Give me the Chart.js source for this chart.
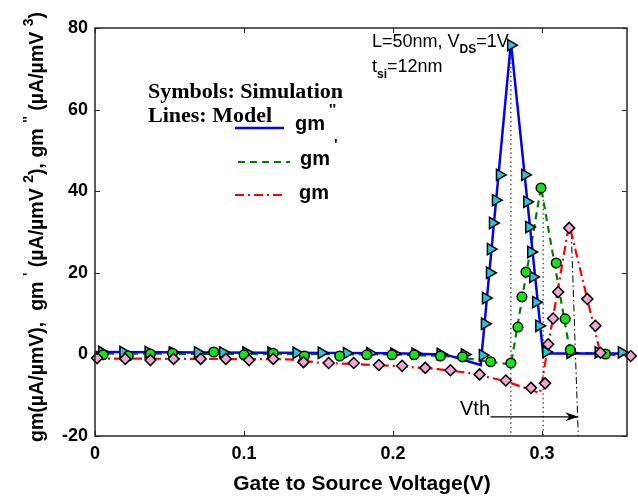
<!DOCTYPE html>
<html>
<head>
<meta charset="utf-8">
<script src="https://cdn.jsdelivr.net/npm/chart.js@4.4.1/dist/chart.umd.min.js"></script>
<style>
  html, body { margin: 0; background: #fff; }
  #wrap { width: 638px; height: 501px; }
</style>
</head>
<body>
<div id="wrap"><canvas id="c"></canvas></div>
<script>
// axis ticks
const xTicks = [0, 0.1, 0.2, 0.3];
const yTicks = [-20, 0, 20, 40, 60, 80];

// model curves (lines)
const gm2LineV = [0, 0.2, 0.235, 0.2588, 0.2791, 0.3007, 0.36];
const gm2LineY = [0.6, 0.3, 0, -2.6, 76.5, 0.2, 0.2];
const gm1LineV = [0, 0.2, 0.24, 0.265, 0.2791, 0.2993, 0.3189, 0.36];
const gm1LineY = [0.2, 0, -0.5, -1.8, -2.5, 41, 0.4, 0];
const gmLineV = [0, 0.13, 0.15, 0.2, 0.23, 0.25, 0.275, 0.2986, 0.3182, 0.3392, 0.36];
const gmLineY = [-1.0, -1.2, -2.0, -2.8, -3.6, -4.5, -6.5, -9.5, 32, 0.2, -0.6];

// simulation symbols
const gm2SimV = [0.0047, 0.0189, 0.0358, 0.052, 0.0689, 0.0858, 0.1014, 0.1182, 0.1351, 0.152,
  0.1689, 0.1845, 0.2007, 0.2149, 0.2318, 0.248, 0.2601, 0.2615, 0.2622, 0.2649, 0.2655, 0.2669,
  0.2689, 0.2716, 0.2791, 0.2885, 0.2899, 0.2912, 0.2926, 0.2939, 0.2959, 0.298, 0.3027, 0.3189,
  0.3378, 0.3534];
const gm2SimY = [0.6, 0.6, 0.6, 0.5, 0.5, 0.5, 0.5, 0.4, 0.4, 0.4, 0.3, 0.3, 0.2, 0.2, 0.1, 0.0,
  -0.2, 7.5, 13.8, 20.0, 25.8, 32.2, 37.8, 44.0, 75.8, 44.0, 37.4, 31.2, 25.1, 19.0, 12.8, 7.0,
  0.6, 0.4, 0.5, 0.5];

const gm1SimV = [0.0054, 0.0223, 0.0372, 0.052, 0.0797, 0.1, 0.1196, 0.1405, 0.1642, 0.1824,
  0.1993, 0.2142, 0.2318, 0.2466, 0.2655, 0.2791, 0.2838, 0.2865, 0.2892, 0.2993, 0.3095, 0.3155,
  0.3189, 0.3426];
const gm1SimY = [-0.1, -0.4, 0.1, 0.3, 0.6, -0.1, 0.3, -0.4, -0.4, -0.1, -0.1, -0.1, -0.4, -0.6,
  -1.8, -2.1, 6.7, 14.1, 20.2, 40.8, 22.4, 8.7, 1.1, 0.1];

const gmSimV = [0.0014, 0.0203, 0.0372, 0.0527, 0.0709, 0.0878, 0.1034, 0.1196, 0.1399, 0.1568,
  0.1736, 0.1905, 0.2061, 0.2216, 0.2385, 0.2581, 0.2757, 0.2926, 0.302, 0.3041, 0.3074, 0.3108,
  0.3182, 0.3304, 0.3358, 0.3392, 0.3595];
const gmSimY = [-0.9, -1.1, -1.4, -1.1, -1.1, -1.1, -1.4, -1.1, -1.9, -2.1, -2.1, -2.6, -2.8, -3.3,
  -3.9, -4.9, -6.4, -8.2, -7.1, 2.5, 8.8, 15.3, 31.0, 13.6, 7.0, 0.4, -0.4];

// threshold guide lines
const vthGm2 = [[0.2791, 76], [0.2791, -20]];
const vthGm1 = [[0.3007, 39], [0.3007, -20]];
const vthGm = [[0.3196, 30], [0.3243, -20]];
const vthArrow = [[0.2655, -15.3], [0.3243, -15.3]];

const pts = (xs, ys) => xs.map((x, i) => ({ x: x, y: ys[i] }));
const seg = (arr) => arr.map(p => ({ x: p[0], y: p[1] }));

const FONT = "'Liberation Sans', Arial, sans-serif";
const SERIF = "'Liberation Serif', 'Times New Roman', serif";

function drawSupText(ctx, parts, size) {
  // parts: [text, isSup]; draws from current origin along +x
  let x = 0;
  parts.forEach(p => {
    if (p[1]) {
      ctx.font = "bold " + Math.round(size * 0.72) + "px " + FONT;
      ctx.fillText(p[0], x, -size * 0.5);
    } else {
      ctx.font = "bold " + size + "px " + FONT;
      ctx.fillText(p[0], x, 0);
    }
    x += ctx.measureText(p[0]).width;
  });
  return x;
}
function measureSup(ctx, parts, size) {
  let w = 0;
  parts.forEach(p => {
    ctx.font = "bold " + (p[1] ? Math.round(size * 0.72) : size) + "px " + FONT;
    w += ctx.measureText(p[0]).width;
  });
  return w;
}

const decor = {
  id: 'decor',
  afterDatasetsDraw(chart) {
    const ctx = chart.ctx;
    const a = chart.chartArea;
    const xs = chart.scales.x, ys = chart.scales.y;
    ctx.save();

    // frame and inward ticks
    ctx.strokeStyle = '#262626';
    ctx.lineWidth = 1.5;
    ctx.strokeRect(a.left, a.top, a.right - a.left, a.bottom - a.top);
    ctx.lineWidth = 1;
    ctx.beginPath();
    xTicks.forEach(v => {
      const px = Math.round(xs.getPixelForValue(v)) + 0.5;
      ctx.moveTo(px, a.bottom); ctx.lineTo(px, a.bottom - 5);
      ctx.moveTo(px, a.top); ctx.lineTo(px, a.top + 5);
    });
    yTicks.forEach(v => {
      const py = Math.round(ys.getPixelForValue(v)) + 0.5;
      ctx.moveTo(a.left, py); ctx.lineTo(a.left + 5, py);
      ctx.moveTo(a.right, py); ctx.lineTo(a.right - 5, py);
    });
    ctx.stroke();

    // arrow head
    const ax = xs.getPixelForValue(vthArrow[1][0]);
    const ay = ys.getPixelForValue(vthArrow[1][1]);
    ctx.fillStyle = '#000';
    ctx.beginPath();
    ctx.moveTo(ax, ay);
    ctx.lineTo(ax - 13, ay - 4.5);
    ctx.lineTo(ax - 9, ay);
    ctx.lineTo(ax - 13, ay + 4.5);
    ctx.closePath();
    ctx.fill();

    // Vth label
    ctx.fillStyle = '#000';
    ctx.textBaseline = 'alphabetic';
    ctx.textAlign = 'left';
    ctx.font = "20px " + FONT;
    ctx.fillText('Vth', 460, 415);

    // device parameters
    ctx.font = "18px " + FONT;
    let tx = 372;
    ctx.fillText('L=50nm, V', tx, 47);
    tx += ctx.measureText('L=50nm, V').width;
    ctx.font = "bold 12px " + FONT;
    ctx.fillText('DS', tx, 53);
    tx += ctx.measureText('DS').width;
    ctx.font = "18px " + FONT;
    ctx.fillText('=1V', tx, 47);
    ctx.fillText('t', 372, 72);
    let tw = ctx.measureText('t').width;
    ctx.font = "bold 12px " + FONT;
    ctx.fillText('si', 372 + tw, 78);
    tw += ctx.measureText('si').width;
    ctx.font = "18px " + FONT;
    ctx.fillText('=12nm', 372 + tw, 72);

    // legend block
    ctx.font = "bold 20px " + SERIF;
    const w1 = ctx.measureText('Symbols: Simulation').width;
    ctx.save();
    ctx.translate(148, 98);
    ctx.scale(195 / w1, 1);
    ctx.fillText('Symbols: Simulation', 0, 0);
    ctx.restore();
    ctx.save();
    ctx.translate(148, 122);
    ctx.scale(195 / w1, 1);
    ctx.fillText('Lines: Model', 0, 0);
    ctx.restore();

    const legend = [
      { ds: 3, x0: 235, x1: 284, y: 128, tx: 295, ty: 130, sup: "''" },
      { ds: 4, x0: 238, x1: 290, y: 162, tx: 300, ty: 165, sup: "'" },
      { ds: 5, x0: 235, x1: 286, y: 195, tx: 299, ty: 199, sup: "" }
    ];
    legend.forEach(l => {
      const d = chart.data.datasets[l.ds];
      ctx.strokeStyle = d.borderColor;
      ctx.lineWidth = d.borderWidth;
      ctx.setLineDash(d.borderDash || []);
      ctx.beginPath();
      ctx.moveTo(l.x0, l.y); ctx.lineTo(l.x1, l.y);
      ctx.stroke();
      ctx.setLineDash([]);
      ctx.fillStyle = '#000';
      ctx.font = "bold 20px " + FONT;
      ctx.fillText('gm', l.tx, l.ty);
      const gw = ctx.measureText('gm').width;
      if (l.sup) {
        ctx.font = "bold 15px " + FONT;
        ctx.fillText(l.sup, l.tx + gw + 4, l.ty - 16);
      }
    });

    // axis titles
    ctx.fillStyle = '#000';
    ctx.font = "bold 21px " + FONT;
    ctx.textAlign = 'center';
    ctx.fillText('Gate to Source Voltage(V)', 362, 490);

    const yParts = [
      ['gm(\u00b5A/\u00b5mV),  gm ', false], ["'", true], [' (\u00b5A/\u00b5mV ', false], ['2', true],
      ['), gm ', false], ["''", true], [' (\u00b5A/\u00b5mV ', false], ['3', true], [')', false]
    ];
    ctx.textAlign = 'left';
    let sz = 17;
    const tot = measureSup(ctx, yParts, sz);
    sz = sz * 430 / tot;
    const totW = measureSup(ctx, yParts, sz);
    ctx.save();
    ctx.translate(43, 227 + totW / 2);
    ctx.rotate(-Math.PI / 2);
    drawSupText(ctx, yParts, sz);
    ctx.restore();

    ctx.restore();
  }
};

const tickFont = { family: FONT, size: 18, weight: 'bold' };

new Chart(document.getElementById('c'), {
  type: 'scatter',
  data: {
    datasets: [
      { label: 'gm sim', data: pts(gmSimV, gmSimY), pointStyle: 'rectRot', pointRadius: 5.5,
        backgroundColor: '#f2a6d2', borderColor: '#000', pointBorderWidth: 1.5, clip: false },
      { label: "gm' sim", data: pts(gm1SimV, gm1SimY), pointStyle: 'circle', pointRadius: 4.8,
        backgroundColor: '#12e612', borderColor: '#000', pointBorderWidth: 1.5, clip: false },
      { label: "gm'' sim", data: pts(gm2SimV, gm2SimY), pointStyle: 'triangle', rotation: 90,
        pointRadius: 6.5, backgroundColor: '#22c8dc', borderColor: '#000', pointBorderWidth: 1.5, clip: false },
      { label: "gm''", data: pts(gm2LineV, gm2LineY), showLine: true, pointRadius: 0,
        borderColor: '#0000ff', borderWidth: 2.5 },
      { label: "gm'", data: pts(gm1LineV, gm1LineY), showLine: true, pointRadius: 0,
        borderColor: '#008000', borderWidth: 2.2, borderDash: [7, 5] },
      { label: 'gm', data: pts(gmLineV, gmLineY), showLine: true, pointRadius: 0,
        borderColor: '#ff0000', borderWidth: 2.2, borderDash: [9, 4, 2, 4] },
      { label: 'vth1', data: seg(vthGm2), showLine: true, pointRadius: 0,
        borderColor: '#000', borderWidth: 1, borderDash: [1.5, 3] },
      { label: 'vth2', data: seg(vthGm1), showLine: true, pointRadius: 0,
        borderColor: '#000', borderWidth: 1, borderDash: [1.5, 3] },
      { label: 'vth3', data: seg(vthGm), showLine: true, pointRadius: 0,
        borderColor: '#000', borderWidth: 1, borderDash: [7, 3, 1.5, 3] },
      { label: 'arrow', data: seg(vthArrow), showLine: true, pointRadius: 0,
        borderColor: '#000', borderWidth: 1.2 }
    ]
  },
  options: {
    responsive: true,
    maintainAspectRatio: false,
    animation: false,
    layout: { padding: { top: 28, right: 11, left: 0, bottom: 0 } },
    plugins: { legend: { display: false }, tooltip: { enabled: false } },
    scales: {
      x: {
        type: 'linear', min: 0, max: 0.357,
        afterBuildTicks: s => { s.ticks = xTicks.map(v => ({ value: v })); },
        afterFit: s => { s.height = 65; },
        grid: { display: false, drawTicks: false },
        border: { display: false },
        ticks: { font: tickFont, color: '#000', padding: 7,
          callback: v => (v === 0 ? '0' : v.toFixed(1)) }
      },
      y: {
        type: 'linear', min: -20, max: 80,
        afterBuildTicks: s => { s.ticks = yTicks.map(v => ({ value: v })); },
        afterFit: s => { s.width = 95; },
        grid: { display: false, drawTicks: false },
        border: { display: false },
        ticks: { font: tickFont, color: '#000', padding: 7 }
      }
    }
  },
  plugins: [decor]
});
</script>
</body>
</html>
